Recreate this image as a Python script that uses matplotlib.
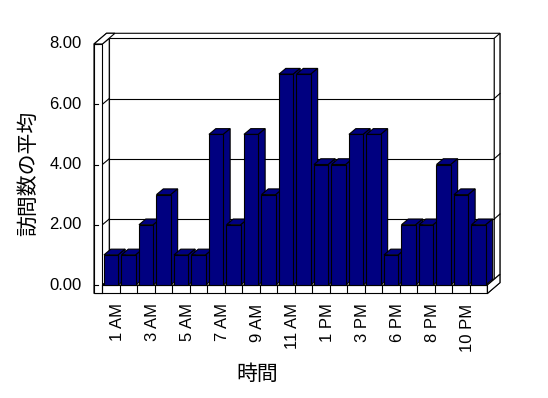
import matplotlib
matplotlib.use("Agg")
import matplotlib.pyplot as plt
from matplotlib.patches import Polygon
import numpy as np

plt.rcParams['font.family'] = ['Liberation Sans', 'Noto Sans CJK JP', 'DejaVu Sans']

# average visits per hour
hours = ["1 AM", "2 AM", "3 AM", "4 AM", "5 AM", "6 AM", "7 AM", "8 AM",
         "9 AM", "10 AM", "11 AM", "12 PM", "1 PM", "2 PM", "3 PM", "5 PM",
         "6 PM", "7 PM", "8 PM", "9 PM", "10 PM", "11 PM"]
visits = [1, 1, 2, 3, 1, 1, 5, 2, 5, 3, 7, 7, 4, 4, 5, 5, 1, 2, 2, 4, 3, 2]
yticks = [0, 2, 4, 6, 8]
ymax = 8

navy = "#000080"
lw = 0.8

# pseudo-3d geometry (data units)
n = len(visits)
X0, X1 = -0.5, n - 0.5
Lw = 0.48      # left wall thickness
Ft = 0.28      # floor thickness
Dx, Dy = 0.39, 0.19    # depth of plot area
Tx, Ty = 0.326, 0.166  # back wall thickness
XL = X0 - Lw
YB = -Ft
bw = 0.82

fig = plt.figure(figsize=(5.48, 3.98), dpi=100)
ax = fig.add_axes([0, 0, 1, 1])
px_x, px_y = 17.5, 30.125
ax.set_xlim(X0 - 102.4 / px_x, X0 + (548 - 102.4) / px_x)
ax.set_ylim(-(398 - 285) / px_y, 285 / px_y)
ax.axis('off')


def poly(pts, fc="white", z=1):
    ax.add_patch(Polygon(pts, closed=True, facecolor=fc, edgecolor="black",
                         linewidth=lw, zorder=z, joinstyle="miter"))


# outer silhouette of walls + floor
bx, by = Dx + Tx, Dy + Ty
poly([(XL, YB), (X1, YB), (X1 + bx, YB + by), (X1 + bx, ymax + by),
      (XL + bx, ymax + by), (XL, ymax)], z=1)
# back wall inner face
poly([(X0 + Dx, Dy), (X1 + Dx, Dy), (X1 + Dx, ymax + Dy), (X0 + Dx, ymax + Dy)], z=1.1)
# back wall right thickness
poly([(X1 + Dx, Dy), (X1 + bx, by), (X1 + bx, ymax + by), (X1 + Dx, ymax + Dy)], z=1.1)
# left wall inner face
poly([(X0, 0), (X0 + Dx, Dy), (X0 + Dx, ymax + Dy), (X0, ymax)], z=1.1)
# left wall top
poly([(XL, ymax), (X0, ymax), (X0 + bx, ymax + by), (XL + bx, ymax + by)], z=1.2)
# floor top, front and right side
poly([(X0, 0), (X1, 0), (X1 + Dx, Dy), (X0 + Dx, Dy)], z=1.2)
poly([(XL, YB), (X1, YB), (X1, 0), (XL, 0)], z=1.2)
poly([(X1, YB), (X1 + bx, YB + by), (X1 + bx, by), (X1 + Dx, Dy), (X1, 0)], z=1.2)
# left wall front
poly([(XL, YB), (X0, YB), (X0, ymax), (XL, ymax)], z=1.3)

# gridlines on back wall and wall faces
for v in yticks[1:-1]:
    ax.plot([X0 + Dx, X1 + Dx], [v + Dy, v + Dy], color="black", lw=lw, zorder=1.15)
    ax.plot([X0, X0 + Dx], [v, v + Dy], color="black", lw=lw, zorder=1.15)
    ax.plot([X1 + Dx, X1 + bx], [v + Dy, v + by], color="black", lw=lw, zorder=1.15)
for v in yticks:
    ax.plot([XL, XL + 0.2], [v, v], color="black", lw=lw, zorder=1.4)

# category dividers on floor front
for k in range(n + 1):
    ax.plot([X0 + k, X0 + k], [YB, 0], color="black", lw=lw, zorder=1.3)

# bars
xs = np.arange(n)
bars = ax.bar(xs, visits, width=bw, color=navy, edgecolor="black", linewidth=lw)
for i, (b, v) in enumerate(zip(bars, visits)):
    z = 3 + i * 0.01
    l, r = i - bw / 2, i + bw / 2
    poly([(l, v), (r, v), (r + Dx, v + Dy), (l + Dx, v + Dy)], fc=navy, z=z)
    poly([(r, 0), (r + Dx, Dy), (r + Dx, v + Dy), (r, v)], fc=navy, z=z)
    b.set_zorder(z + 0.005)

# tick labels
for v in yticks:
    ax.text(X0 - 1.18, v, f"{v:.2f}", ha="right", va="center", fontsize=12)
for i in range(0, n, 2):
    ax.text(i + Dx, YB - 0.33, hours[i], rotation=90, ha="center", va="top",
            fontsize=12)

ax.text(-4.75, 3.7, "訪問数の平均", rotation=90, ha="center", va="center",
        fontsize=15)
ax.text(X0 + (257 - 102.4) / px_x, -(374 - 285) / px_y, "時間",
        ha="center", va="center", fontsize=15)

plt.savefig("out.png", dpi=100)
